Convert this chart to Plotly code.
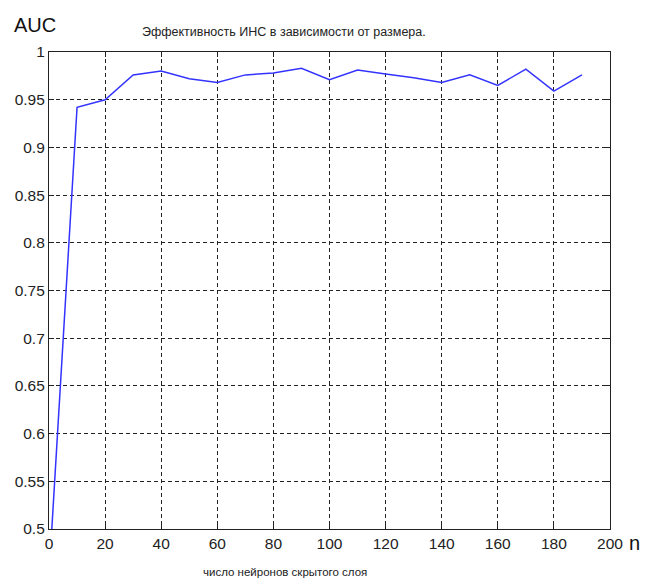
import plotly.graph_objects as go

# Data
neurons = [1, 10, 20, 30, 40, 50, 60, 70, 80, 90, 100, 110, 120, 130, 140, 150, 160, 170, 180, 190]
auc = [0.5, 0.942, 0.950, 0.976, 0.980, 0.972, 0.968, 0.976, 0.978, 0.983, 0.971,
       0.981, 0.977, 0.973, 0.968, 0.976, 0.965, 0.982, 0.959, 0.976]

x_ticks = [0, 20, 40, 60, 80, 100, 120, 140, 160, 180, 200]
x_tick_text = ["0", "20", "40", "60", "80", "100", "120", "140", "160", "180", "200"]
y_ticks = [0.5, 0.55, 0.6, 0.65, 0.7, 0.75, 0.8, 0.85, 0.9, 0.95, 1.0]
y_tick_text = ["0.5", "0.55", "0.6", "0.65", "0.7", "0.75", "0.8", "0.85", "0.9", "0.95", "1"]

title_text = "Эффективность ИНС в зависимости от размера."
x_label = "число нейронов скрытого слоя"
y_label = "AUC"
x_unit = "n"

FONT = "Liberation Sans, Arial, sans-serif"

fig = go.Figure()
fig.add_trace(go.Scatter(
    x=neurons, y=auc, mode="lines",
    line=dict(color="#3333ff", width=1.5),
    showlegend=False, hoverinfo="x+y",
))

axis_common = dict(
    showline=True, linecolor="#222222", linewidth=1.2, mirror="allticks",
    ticks="inside", ticklen=5, tickcolor="#222222",
    showgrid=True, gridcolor="#222222", gridwidth=1, griddash="4px,3px",
    zeroline=False, automargin=False,
    tickfont=dict(family=FONT, size=15.5, color="#222222"),
)

fig.update_xaxes(range=[0, 200], tickvals=x_ticks, ticktext=x_tick_text, **axis_common)
fig.update_yaxes(range=[0.5, 1.0], tickvals=y_ticks, ticktext=y_tick_text,
                 ticklabelstandoff=0, **axis_common)

# The page body adds an 8px margin, so the figure is made 8px smaller each way
fig.update_layout(
    width=640, height=572,
    margin=dict(l=41, r=38, t=44, b=51),
    paper_bgcolor="white", plot_bgcolor="white",
    font=dict(family=FONT, color="#222222"),
    annotations=[
        dict(text=title_text, xref="paper", yref="paper", x=0.419, y=1.0, yshift=20,
             xanchor="center", yanchor="middle", showarrow=False,
             font=dict(family=FONT, size=12.5, color="#222222")),
        dict(text=y_label, xref="paper", yref="paper", x=0, y=1.0, xshift=-37, yshift=27,
             xanchor="left", yanchor="middle", showarrow=False,
             font=dict(family=FONT, size=20, color="#111111")),
        dict(text=x_unit, xref="paper", yref="paper", x=1.0, y=0, xshift=24, yshift=-14,
             xanchor="center", yanchor="middle", showarrow=False,
             font=dict(family=FONT, size=20, color="#111111")),
        dict(text=x_label, xref="paper", yref="paper", x=0.42, y=0, yshift=-43,
             xanchor="center", yanchor="middle", showarrow=False,
             font=dict(family=FONT, size=11.5, color="#222222")),
    ],
)

fig.write_html("out.html", post_script="document.body.style.overflow='hidden';")
